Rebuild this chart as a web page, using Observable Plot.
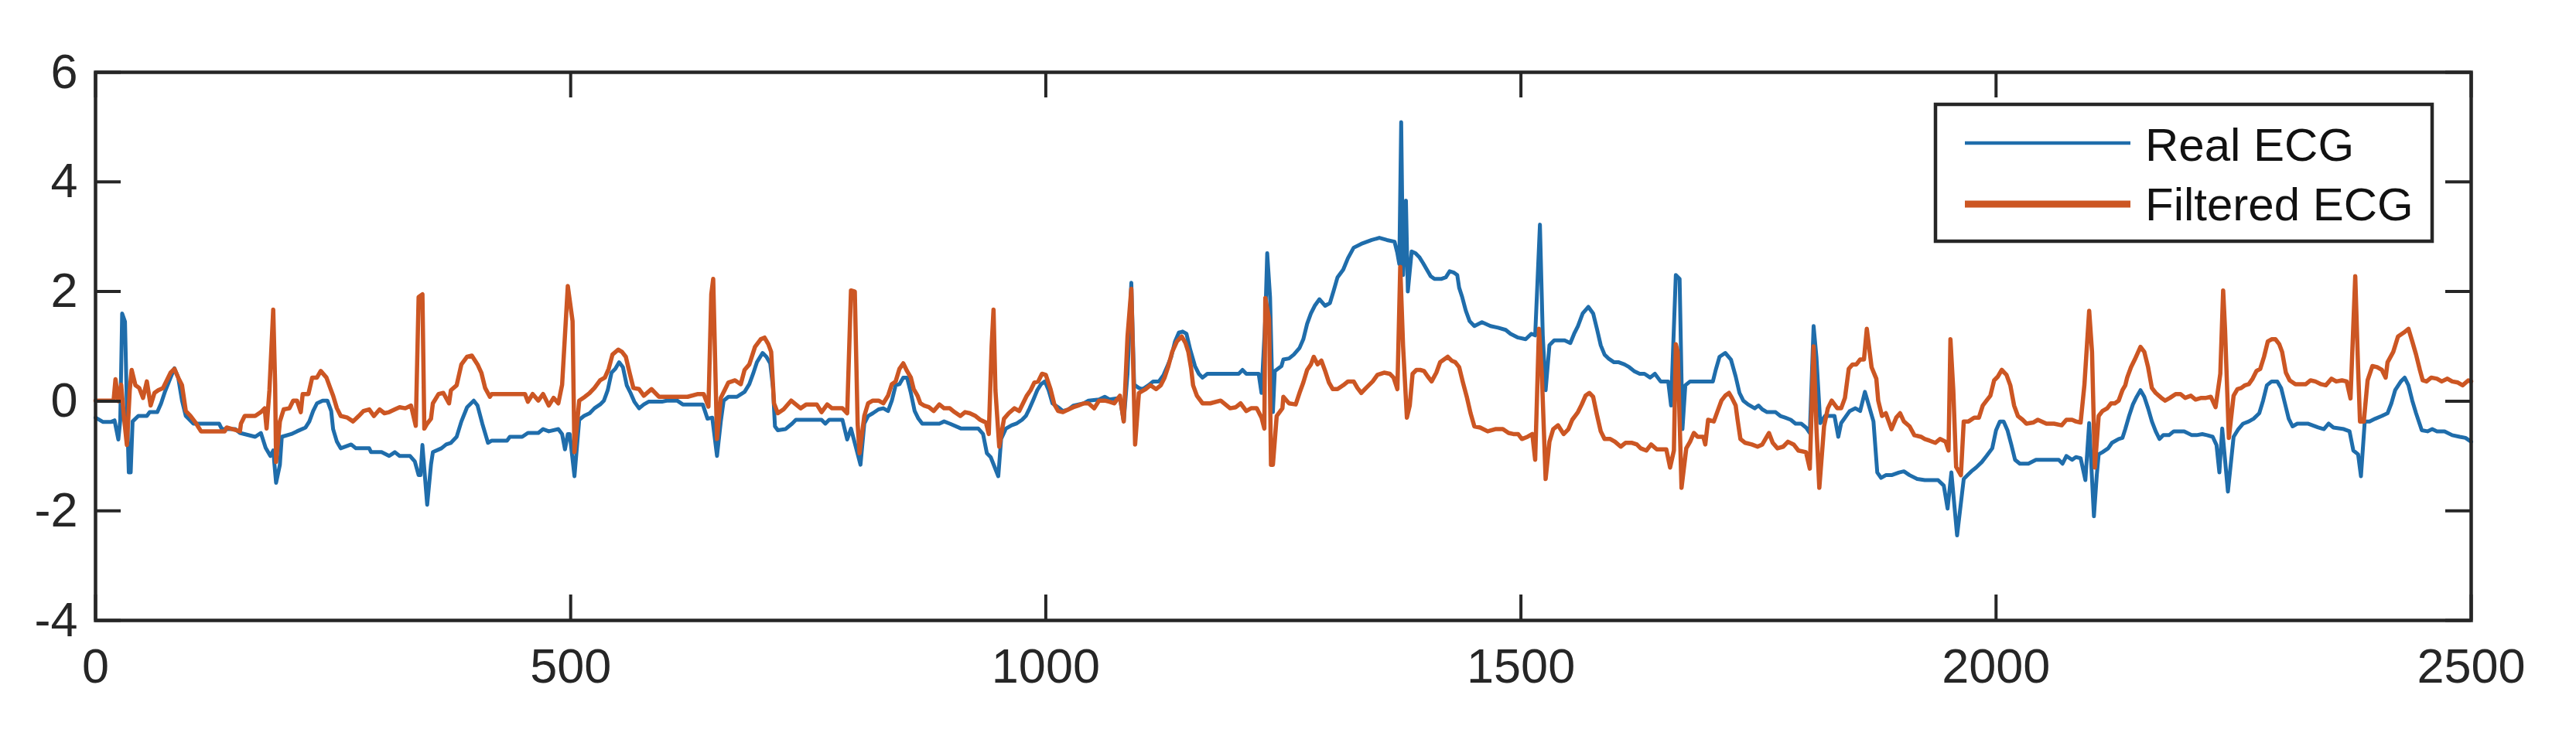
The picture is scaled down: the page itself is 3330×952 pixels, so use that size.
<!DOCTYPE html>
<html>
<head>
<meta charset="utf-8">
<script src="https://cdn.jsdelivr.net/npm/d3@7"></script>
<script src="https://cdn.jsdelivr.net/npm/@observablehq/plot@0.6"></script>
<style>
  html, body { margin: 0; padding: 0; background: #fff; }
  #chart svg { display: block; }
</style>
</head>
<body>
<div id="chart"></div>
<script>
// ---- Data (sample index, amplitude) ----
const seriesNames = ["Real ECG", "Filtered ECG"];
const xTicks = [0, 500, 1000, 1500, 2000, 2500];
const yTicks = [-4, -2, 0, 2, 4, 6];

const realX = [0,8,16,20,24,26,28,31,33,35,37,39,45,54,57,65,69,73,79,83,87,91,95,103,130,133,147,152,168,174,179,184,187,190,194,196,206,212,221,225,229,233,239,244,248,250,254,258,269,274,288,290,301,309,315,320,331,336,340,342,344,349,353,355,364,369,374,380,385,391,398,402,407,413,
417,433,436,449,455,466,471,477,487,491,494,497,499,504,509,514,520,525,531,535,539,543,547,551,555,559,563,567,572,577,582,596,601,612,618,639,644,649,654,658,661,666,675,683,688,692,696,702,706,710,713,714,715,718,726,733,737,764,768,772,786,791,795,805,809,813,818,824,829,
834,838,842,846,850,854,858,862,866,870,888,893,899,911,929,934,938,942,950,953,958,964,969,975,979,983,987,991,995,999,1003,1007,1013,1018,1024,1029,1040,1045,1056,1062,1067,1078,1082,1086,1090,1093,1098,1102,1108,1113,1119,1124,1128,1132,1136,1140,1144,1148,1152,1157,1161,1165,1170,1203,1207,1211,1224,1227,1231,1233,1236,1239,1241,1248,
1250,1256,1261,1267,1271,1275,1279,1283,1288,1294,1299,1303,1307,1313,1318,1324,1332,1343,1351,1359,1367,1370,1372,1374,1376,1379,1381,1385,1389,1393,1397,1401,1405,1409,1416,1421,1425,1429,1433,1435,1438,1442,1446,1451,1459,1468,1476,1484,1489,1497,1505,1511,1515,1520,1523,1526,1530,1535,1541,1546,1552,1556,1560,1565,1571,1576,1580,1584,1588,1592,1598,1603,1609,1614,1619,1625,1630,1636,1641,1647,1655,1658,1663,1667,
1670,1673,1678,1686,1702,1705,1709,1715,1721,1726,1730,1734,1739,1746,1750,1754,1759,1768,1773,1778,1784,1789,1795,1800,1804,1808,1811,1815,1820,1830,1834,1837,1846,1852,1857,1862,1867,1871,1875,1879,1884,1890,1898,1903,1909,1917,1925,1932,1939,1945,1949,1953,1959,1966,1970,1974,1979,1985,1990,1996,2000,2004,2008,2012,2016,2020,2025,2034,2042,2058,2066,2070,2074,2080,
2084,2089,2094,2098,2103,2106,2108,2112,2118,2122,2129,2133,2136,2140,2144,2148,2152,2156,2160,2164,2168,2172,2176,2182,2187,2198,2206,2211,2217,2222,2228,2232,2235,2238,2244,2250,2255,2260,2266,2271,2277,2281,2285,2290,2296,2300,2304,2308,2312,2317,2328,2339,2345,2350,2355,2366,2372,2376,2381,2384,2388,2393,2399,2406,2412,2416,2420,2426,2430,2434,2438,2442,2448,2454,2459,2464,2472,2480,2488,2494,2500];

const realY = [-0.30,-0.38,-0.38,-0.35,-0.70,-0.35,1.60,1.45,-0.10,-1.30,-1.30,-0.37,-0.27,-0.27,-0.20,-0.20,-0.04,0.17,0.43,0.60,0.43,0.01,-0.27,-0.41,-0.41,-0.51,-0.51,-0.58,-0.65,-0.58,-0.85,-1.00,-0.90,-1.49,-1.16,-0.65,-0.60,-0.55,-0.48,-0.37,-0.18,-0.04,0.01,0.01,-0.18,-0.51,-0.74,-0.86,-0.79,-0.86,-0.86,-0.93,-0.93,-1.00,-0.93,-1.00,-1.00,-1.10,-1.35,-1.35,-0.80,-1.89,-1.16,-0.93,-0.86,-0.79,-0.76,-0.65,-0.37,-0.11,0.01,-0.08,-0.41,-0.76,
-0.72,-0.72,-0.65,-0.65,-0.58,-0.58,-0.51,-0.55,-0.51,-0.60,-0.88,-0.60,-0.60,-1.37,-0.34,-0.27,-0.22,-0.13,-0.06,0.01,0.20,0.52,0.59,0.71,0.62,0.29,0.15,-0.01,-0.13,-0.06,-0.01,-0.01,0.01,0.01,-0.06,-0.06,-0.32,-0.30,-1.00,-0.37,0.01,0.08,0.08,0.17,0.31,0.50,0.71,0.88,0.81,0.69,0.24,-0.13,-0.46,-0.53,-0.51,-0.41,-0.34,-0.34,-0.41,-0.34,-0.34,-0.70,-0.50,-1.16,-0.41,-0.27,-0.22,-0.15,-0.13,
-0.18,0.01,0.29,0.31,0.43,0.43,0.15,-0.18,-0.32,-0.41,-0.41,-0.37,-0.41,-0.50,-0.50,-0.60,-0.95,-1.02,-1.37,-0.69,-0.50,-0.44,-0.41,-0.34,-0.27,-0.13,0.03,0.20,0.31,0.36,0.20,-0.04,-0.11,-0.18,-0.15,-0.08,-0.04,0.01,0.03,0.08,0.03,0.06,-0.37,0.50,2.16,0.30,0.24,0.22,0.29,0.36,0.36,0.48,0.64,0.81,1.09,1.25,1.27,1.23,0.94,0.64,0.50,0.43,0.50,0.50,0.57,0.50,0.50,0.15,1.50,2.70,1.90,-0.20,0.55,0.64,
0.76,0.78,0.85,0.97,1.13,1.41,1.60,1.74,1.86,1.74,1.79,2.02,2.26,2.40,2.61,2.80,2.87,2.94,2.98,2.94,2.91,2.70,2.50,5.09,2.30,3.66,2.00,2.73,2.70,2.63,2.52,2.40,2.28,2.23,2.23,2.26,2.37,2.35,2.30,2.07,1.91,1.65,1.46,1.37,1.44,1.37,1.34,1.30,1.23,1.16,1.13,1.23,1.20,3.22,1.20,0.20,1.02,1.11,1.11,1.11,1.06,1.23,1.37,1.60,1.72,1.60,1.32,1.02,0.85,0.78,0.71,0.71,0.67,0.62,0.55,0.50,0.50,0.43,0.50,0.36,0.36,-0.08,2.30,2.23,
-0.51,0.29,0.36,0.36,0.36,0.57,0.81,0.88,0.76,0.45,0.15,0.01,-0.06,-0.13,-0.08,-0.15,-0.20,-0.20,-0.27,-0.30,-0.34,-0.41,-0.41,-0.48,-0.58,1.37,0.80,-0.40,-0.27,-0.27,-0.65,-0.40,-0.18,-0.13,-0.18,0.17,-0.13,-0.37,-1.30,-1.40,-1.35,-1.35,-1.30,-1.28,-1.35,-1.42,-1.44,-1.44,-1.44,-1.54,-1.96,-1.30,-2.45,-1.42,-1.35,-1.28,-1.21,-1.11,-1.00,-0.86,-0.53,-0.37,-0.37,-0.53,-0.79,-1.07,-1.14,-1.14,-1.07,-1.07,-1.07,-1.14,-1.00,-1.07,
-1.02,-1.04,-1.44,-0.40,-2.10,-1.35,-0.97,-0.93,-0.86,-0.76,-0.69,-0.67,-0.51,-0.27,-0.06,0.08,0.20,0.08,-0.13,-0.37,-0.55,-0.69,-0.62,-0.62,-0.55,-0.55,-0.62,-0.62,-0.60,-0.62,-0.65,-0.80,-1.30,-0.50,-1.65,-0.65,-0.51,-0.41,-0.37,-0.32,-0.22,0.01,0.29,0.36,0.36,0.24,-0.04,-0.32,-0.46,-0.41,-0.41,-0.48,-0.51,-0.41,-0.48,-0.51,-0.55,-0.90,-0.97,-1.37,-0.37,-0.37,-0.32,-0.27,-0.22,-0.04,0.20,0.36,0.43,0.29,0.01,-0.22,-0.53,-0.55,-0.51,-0.55,-0.55,-0.62,-0.65,-0.67,-0.74];

const filtX = [0,19,21,24,27,30,33,36,38,42,46,50,54,58,62,66,71,75,79,83,87,91,95,100,106,111,136,138,152,153,157,168,174,178,180,183,187,189,190,194,198,204,208,212,216,218,224,228,233,237,243,247,250,254,258,265,271,277,282,288,293,299,304,309,315,320,326,332,337,340,344,346,349,353,355,361,366,372,374,380,385,391,396,402,406,410,415,
417,452,455,460,466,471,477,482,487,491,497,502,504,509,515,520,525,531,536,540,544,550,554,558,562,566,572,577,585,593,623,634,640,645,648,650,654,658,662,666,673,679,683,688,694,700,704,708,711,714,718,724,732,737,742,748,759,764,770,775,786,791,795,799,802,804,809,813,818,824,829,
834,838,842,846,850,854,858,861,865,868,872,877,882,888,893,899,904,910,915,920,926,931,937,940,943,945,947,951,956,961,967,972,976,980,984,988,992,996,1000,1005,1009,1013,1018,1024,1029,1034,1040,1045,1051,1056,1062,1067,1072,1078,1082,1086,1090,1094,1098,1105,1110,1116,1121,1125,1129,1133,1138,1143,1147,1150,1153,1155,1159,1165,1173,1184,1189,1194,1200,1205,1211,1216,1222,1227,1230,1231,1235,1237,1239,1243,1249,
1250,1256,1263,1267,1271,1275,1279,1282,1286,1290,1294,1298,1302,1307,1313,1318,1324,1328,1332,1337,1344,1349,1356,1362,1366,1370,1373,1376,1380,1383,1386,1390,1394,1398,1402,1406,1411,1415,1419,1423,1427,1431,1435,1439,1443,1447,1451,1457,1465,1473,1481,1487,1492,1497,1501,1507,1512,1515,1519,1522,1526,1530,1534,1539,1545,1550,1554,1560,1564,1568,1572,1576,1580,1584,1588,1594,1599,1605,1610,1617,1622,1626,1632,1637,1643,1648,1653,1657,1661,1663,1665,1669,
1674,1678,1682,1686,1692,1694,1697,1703,1707,1711,1715,1719,1722,1726,1728,1731,1736,1743,1749,1754,1761,1765,1770,1776,1781,1787,1792,1800,1804,1808,1811,1814,1819,1823,1827,1833,1837,1841,1845,1849,1853,1857,1861,1864,1869,1874,1876,1880,1884,1890,1895,1899,1903,1909,1914,1921,1925,1930,1936,1941,1947,1950,1952,1955,1958,1963,1966,1971,1977,1982,1986,1990,1994,1998,2002,2006,2011,2015,2019,2023,2028,2032,2039,2044,2053,2061,2069,2074,2080,
2084,2089,2093,2098,2101,2104,2108,2112,2117,2121,2125,2129,2133,2136,2138,2142,2146,2152,2156,2160,2164,2168,2174,2178,2183,2189,2194,2199,2205,2210,2216,2221,2226,2231,2236,2239,2241,2245,2250,2254,2258,2262,2266,2270,2274,2278,2282,2286,2290,2294,2298,2301,2305,2309,2315,2326,2331,2336,2342,2347,2353,2358,2364,2369,2373,2378,2381,2383,2387,2391,2396,2401,2406,2410,2412,2418,2423,2429,2434,2438,2442,2446,2449,2453,2458,2464,2469,2475,2480,2486,2491,2497,2500];

const filtY = [0.01,0.01,0.40,0.00,0.30,-0.30,-0.80,0.20,0.57,0.29,0.24,0.06,0.36,-0.08,0.15,0.20,0.24,0.38,0.52,0.59,0.43,0.29,-0.18,-0.27,-0.41,-0.55,-0.55,-0.48,-0.55,-0.41,-0.27,-0.27,-0.20,-0.13,-0.50,0.20,1.67,0.30,-1.11,-0.37,-0.15,-0.13,0.01,0.01,-0.20,0.13,0.13,0.43,0.43,0.55,0.43,0.24,0.10,-0.13,-0.27,-0.30,-0.37,-0.27,-0.18,-0.15,-0.27,-0.15,-0.22,-0.20,-0.15,-0.11,-0.13,-0.08,-0.45,1.90,1.95,-0.50,-0.41,-0.32,-0.04,0.13,0.15,-0.04,0.20,0.29,0.67,0.81,0.83,0.67,0.52,0.24,0.08,
0.13,0.13,-0.01,0.13,0.01,0.13,-0.08,0.06,-0.04,0.30,2.10,1.46,-0.93,0.01,0.08,0.15,0.24,0.38,0.43,0.59,0.85,0.94,0.90,0.81,0.52,0.24,0.22,0.10,0.22,0.08,0.08,0.13,0.13,-0.10,1.95,2.23,-0.69,0.06,0.20,0.34,0.38,0.31,0.57,0.67,0.99,1.13,1.16,1.04,0.90,-0.04,-0.22,-0.15,0.01,-0.06,-0.13,-0.06,-0.06,-0.20,-0.06,-0.13,-0.13,-0.22,2.02,2.00,-0.41,-0.95,-0.27,-0.04,0.01,0.01,-0.04,
0.10,0.31,0.36,0.59,0.69,0.55,0.43,0.22,0.10,-0.04,-0.08,-0.11,-0.18,-0.06,-0.13,-0.13,-0.20,-0.27,-0.20,-0.22,-0.27,-0.34,-0.39,-0.60,1.00,1.67,0.20,-0.83,-0.32,-0.22,-0.13,-0.18,-0.04,0.10,0.20,0.34,0.36,0.50,0.48,0.22,-0.06,-0.18,-0.20,-0.15,-0.11,-0.08,-0.04,-0.04,-0.13,0.01,0.01,-0.01,-0.04,0.10,-0.37,1.18,2.05,-0.79,0.15,0.22,0.29,0.22,0.29,0.43,0.64,0.90,1.09,1.18,1.06,0.90,0.59,0.29,0.10,-0.04,-0.04,0.01,-0.06,-0.13,-0.11,-0.04,-0.18,-0.13,-0.13,-0.30,-0.50,1.88,1.50,-1.16,-1.16,-0.27,-0.13,
0.08,-0.04,-0.06,0.15,0.34,0.57,0.67,0.81,0.67,0.74,0.55,0.34,0.22,0.22,0.29,0.36,0.36,0.24,0.15,0.24,0.36,0.48,0.52,0.50,0.43,0.22,2.45,1.00,-0.30,-0.08,0.50,0.57,0.57,0.55,0.45,0.36,0.52,0.71,0.76,0.81,0.74,0.71,0.62,0.34,0.08,-0.22,-0.46,-0.48,-0.55,-0.51,-0.51,-0.58,-0.60,-0.60,-0.69,-0.65,-0.60,-1.07,1.32,0.50,-1.42,-0.74,-0.51,-0.44,-0.60,-0.51,-0.34,-0.20,-0.06,0.10,0.15,0.08,-0.25,-0.55,-0.69,-0.69,-0.74,-0.83,-0.76,-0.76,-0.79,-0.86,-0.90,-0.79,-0.88,-0.88,-0.88,-1.21,-0.90,1.04,0.90,-1.58,
-0.86,-0.74,-0.58,-0.65,-0.65,-0.79,-0.34,-0.37,-0.18,0.01,0.10,0.15,0.06,-0.08,-0.34,-0.69,-0.76,-0.79,-0.83,-0.79,-0.58,-0.76,-0.86,-0.83,-0.74,-0.79,-0.90,-0.93,-1.23,1.00,-0.50,-1.58,-0.46,-0.13,0.01,-0.13,-0.13,0.06,0.59,0.67,0.67,0.76,0.76,1.32,0.62,0.41,0.01,-0.27,-0.22,-0.51,-0.30,-0.22,-0.37,-0.46,-0.62,-0.65,-0.69,-0.72,-0.76,-0.69,-0.74,-0.90,1.13,0.20,-1.20,-1.35,-0.37,-0.37,-0.30,-0.30,-0.08,0.01,0.10,0.38,0.45,0.57,0.48,0.29,-0.08,-0.27,-0.34,-0.41,-0.39,-0.34,-0.41,-0.41,-0.44,-0.34,-0.34,
-0.37,-0.39,0.30,1.65,0.90,-1.21,-0.27,-0.18,-0.13,-0.04,-0.04,0.01,0.20,0.29,0.43,0.62,0.76,0.99,0.90,0.62,0.24,0.15,0.06,0.01,0.06,0.13,0.13,0.06,0.10,0.03,0.06,0.06,0.08,-0.11,0.50,2.02,1.30,-0.67,0.10,0.22,0.24,0.29,0.31,0.41,0.55,0.59,0.81,1.09,1.13,1.13,1.04,0.90,0.52,0.38,0.31,0.31,0.38,0.36,0.31,0.29,0.41,0.36,0.38,0.36,0.05,2.28,0.60,-0.37,-0.37,0.38,0.64,0.62,0.57,0.43,0.71,0.90,1.18,1.25,1.32,1.09,0.85,0.57,0.38,0.36,0.43,0.41,0.36,0.41,0.36,0.34,0.29,0.38,0.36];

const colors = ["#1f6dab", "#cc5623"];

// ---- Build tables ----
const real = realX.map((x, i) => ({x, y: realY[i]}));
const filt = filtX.map((x, i) => ({x, y: filtY[i]}));

const W = 3330, H = 952;
const mL = 123, mR = 136, mT = 93, mB = 150;
const plotW = W - mL - mR, plotH = H - mT - mB;
const axisColor = "#262626";
const tickLen = 33;

const chart = Plot.plot({
  width: W,
  height: H,
  marginLeft: mL,
  marginRight: mR,
  marginTop: mT,
  marginBottom: mB,
  style: {fontFamily: "'Liberation Sans', Arial, sans-serif", fontSize: "63px", color: axisColor, background: "#fff"},
  x: {domain: [0, 2500]},
  y: {domain: [-4, 6]},
  marks: [
    Plot.line(real, {x: "x", y: "y", stroke: colors[0], strokeWidth: 5, strokeLinejoin: "round"}),
    Plot.line(filt, {x: "x", y: "y", stroke: colors[1], strokeWidth: 5.5, strokeLinejoin: "round"}),
    // inward ticks on all four sides
    Plot.tickY(yTicks, {y: d => d, stroke: axisColor, strokeWidth: 4, insetRight: plotW - tickLen}),
    Plot.tickY(yTicks, {y: d => d, stroke: axisColor, strokeWidth: 4, insetLeft: plotW - tickLen}),
    Plot.tickX(xTicks, {x: d => d, stroke: axisColor, strokeWidth: 4, insetTop: plotH - tickLen}),
    Plot.tickX(xTicks, {x: d => d, stroke: axisColor, strokeWidth: 4, insetBottom: plotH - tickLen}),
    Plot.frame({stroke: axisColor, strokeWidth: 4.5}),
    Plot.axisX({ticks: xTicks, tickSize: 0, tickPadding: 36, tickFormat: d => String(d), label: null, fontSize: 63, fill: axisColor}),
    Plot.axisY({ticks: yTicks, tickSize: 0, tickPadding: 23, tickFormat: d => String(d), label: null, fontSize: 63, fill: axisColor})
  ]
});

document.getElementById("chart").appendChild(chart);

// ---- Legend (inside the axes, top right) ----
const svg = d3.select(chart);
const lg = svg.append("g")
  .attr("font-family", "'Liberation Sans', Arial, sans-serif")
  .attr("font-size", 60)
  .attr("text-anchor", "start");
lg.append("rect").attr("x", 2502).attr("y", 135).attr("width", 642).attr("height", 177)
  .attr("fill", "#fff").attr("stroke", axisColor).attr("stroke-width", 4.5);
const rows = [{name: seriesNames[0], color: colors[0], w: 4.5, ly: 185, by: 208},
              {name: seriesNames[1], color: colors[1], w: 9, ly: 264, by: 285}];
rows.forEach(r => {
  lg.append("line").attr("x1", 2540).attr("x2", 2754).attr("y1", r.ly).attr("y2", r.ly)
    .attr("stroke", r.color).attr("stroke-width", r.w);
  lg.append("text").attr("x", 2773).attr("y", r.by).attr("fill", "#111")
    .attr("text-anchor", "start").text(r.name);
});
</script>
</body>
</html>
